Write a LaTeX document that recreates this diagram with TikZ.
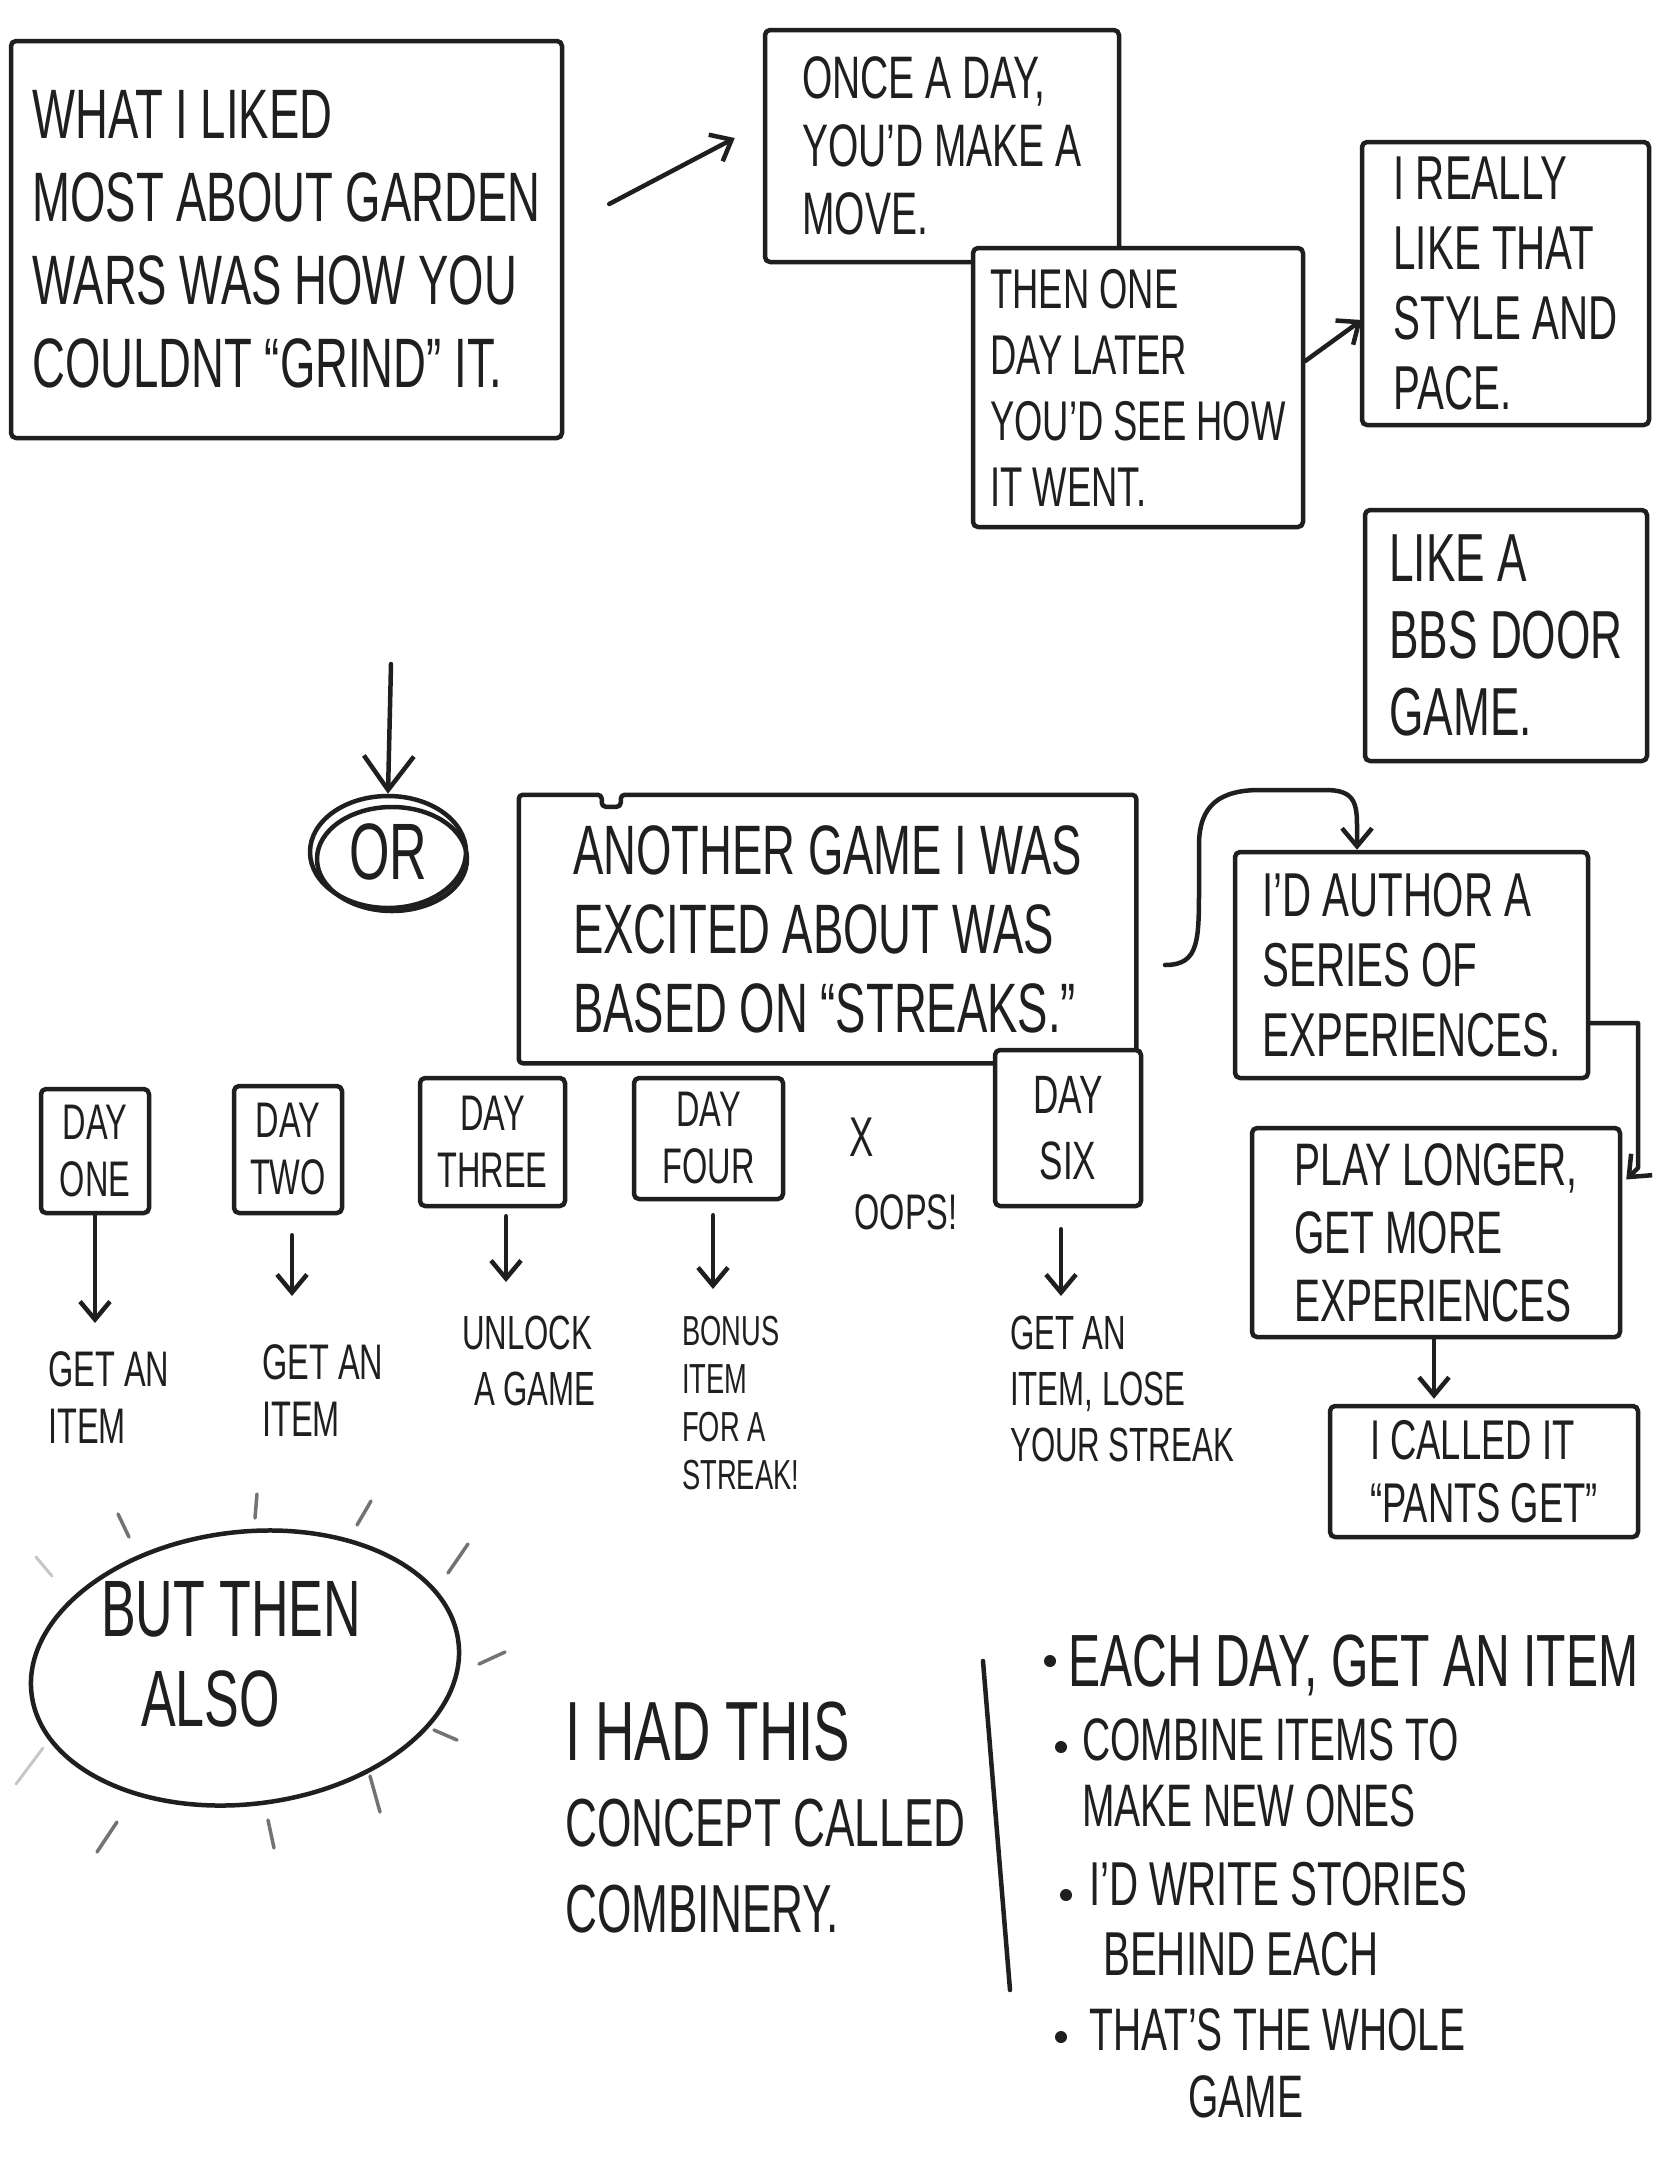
\documentclass[tikz,border=0pt]{standalone}
\usepackage{fontspec}
\setmainfont{Liberation Sans}[FakeStretch=0.65]
\usetikzlibrary{arrows.meta,shapes.geometric}
\newcommand{\hsz}[2]{\fontsize{#1}{#2}\selectfont}
\tikzset{
  sk/.style={line width=4.5pt, line cap=round, line join=round, draw=black!88},
  sbox/.style={sk, draw, rounded corners=5pt, inner sep=0pt, align=left, fill=white, text=black!88},
  txt/.style={inner sep=0pt, align=left, text=black!88},
  harrow/.style={sk, -{Straight Barb[length=18pt,width=30pt]}},
  bigarrow/.style={sk, -{Straight Barb[length=34pt,width=50pt]}},
  ray/.style={line width=3.5pt, line cap=round, draw=black!55},
  faintray/.style={line width=3pt, line cap=round, draw=black!22},
}
\begin{document}
\begin{tikzpicture}[x=1pt,y=-1pt]
\useasboundingbox[fill=white] (0,0) rectangle (1668,2161);

% top row
\node[sbox, minimum width=551pt, minimum height=397pt, font=\hsz{70}{83}] (b1) at (286.5,239.5)
  {WHAT I LIKED\\MOST ABOUT GARDEN\\WARS WAS HOW YOU\\COULDNT “GRIND” IT.};
\node[sbox, minimum width=354pt, minimum height=232pt, font=\hsz{60}{68}] (b2) at (942,146)
  {ONCE A DAY,\\YOU’D MAKE A\\MOVE.};
\node[sbox, minimum width=330pt, minimum height=279pt, font=\hsz{56}{66}] (b3) at (1138,387.5)
  {THEN ONE\\DAY LATER\\YOU’D SEE HOW\\IT WENT.};
\node[sbox, minimum width=287pt, minimum height=283pt, font=\hsz{62}{70}] (b4) at (1505.5,283.5)
  {I REALLY\\LIKE THAT\\STYLE AND\\PACE.};
\node[sbox, minimum width=282pt, minimum height=251pt, font=\hsz{68}{77}] (b5) at (1506,635.5)
  {LIKE A\\BBS DOOR\\GAME.};

\draw[harrow] ([xshift=45pt,yshift=35.5pt]b1.east) -- ([xshift=-28pt,yshift=8pt]b2.west);
\draw[harrow] ([yshift=26.5pt]b3.east) -- ([xshift=2pt,yshift=-36.5pt]b4.west);

% OR
\coordinate (ors) at (391,664);
\node[ellipse, sk, draw, minimum width=156pt, minimum height=112pt, inner sep=0pt, font=\hsz{80}{90}, text=black!88] (or) at (388,852) {OR};
\draw[sk] (392,859) ellipse [x radius=75, y radius=52];
\draw[bigarrow] (ors) -- (or.north);

% streaks box
\node[sbox, draw=none, fill=none, minimum width=613pt, minimum height=264pt, font=\hsz{70}{79}] (b6) at (827.5,929)
  {ANOTHER GAME I WAS\\EXCITED ABOUT WAS\\BASED ON “STREAKS.”};
\draw[sk, rounded corners=4pt] (b6.north west) -- ([xshift=83pt]b6.north west) -- ([xshift=83pt,yshift=-12pt]b6.north west)
  -- ([xshift=102pt,yshift=-12pt]b6.north west) -- ([xshift=102pt]b6.north west) -- (b6.north east)
  -- (b6.south east) -- (b6.south west) -- cycle;

% right column
\node[sbox, minimum width=353pt, minimum height=226pt, font=\hsz{62}{70}] (b7) at (1411.5,965)
  {I’D AUTHOR A\\SERIES OF\\EXPERIENCES.};
\node[sbox, minimum width=368pt, minimum height=209pt, font=\hsz{60}{68}] (b8) at (1436,1232.5)
  {PLAY LONGER,\\GET MORE\\EXPERIENCES};
\node[sbox, minimum width=308pt, minimum height=131pt, font=\hsz{56}{63}] (b9) at (1484,1471.5)
  {I CALLED IT\\“PANTS GET”};

\coordinate (c1) at (1165,965);
\draw[harrow] (c1) .. controls (1200,965) and (1199,940) .. (1199,880) -- (1199,845)
  .. controls (1199,805) and (1220,790) .. (1260,790) -- (1325,790)
  .. controls (1352,790) and (1357,800) .. (1357,825) -- ([xshift=-54.5pt]b7.north);
\draw[harrow] ([yshift=-58pt]b7.east) -- (1638,1023) -- (1638,1168) -- ([xshift=4pt,yshift=53pt]b8.east);
\draw[harrow] ([xshift=-2pt]b8.south) -- ([xshift=-50pt,yshift=5pt]b9.north);

% day boxes
\node[sbox, minimum width=108pt, minimum height=124pt, align=center, font=\hsz{50}{57}] (d1) at (95,1151) {DAY\\ONE};
\node[sbox, minimum width=108pt, minimum height=127pt, align=center, font=\hsz{50}{57}] (d2) at (288,1149.5) {DAY\\TWO};
\node[sbox, minimum width=145pt, minimum height=128pt, align=center, font=\hsz{50}{57}] (d3) at (492.5,1142) {DAY\\THREE};
\node[sbox, minimum width=149pt, minimum height=121pt, align=center, font=\hsz{50}{57}] (d4) at (708.5,1138.5) {DAY\\FOUR};
\node[sbox, minimum width=146pt, minimum height=156pt, align=center, font=\hsz{54}{66}] (d6) at (1068,1128) {DAY\\SIX};

\node[txt, anchor=north west, font=\hsz{50}{57}] (l1) at (48,1351) {GET AN\\ITEM};
\node[txt, anchor=north west, font=\hsz{50}{57}] (l2) at (262,1344) {GET AN\\ITEM};
\node[txt, anchor=north west, font=\hsz{48}{56}] (l3) at (462,1316) {UNLOCK\\\hspace*{12pt}A GAME};
\node[txt, anchor=north west, font=\hsz{42}{48}] (l4) at (682,1316) {BONUS\\ITEM\\FOR A\\STREAK!};
\node[txt, anchor=north west, font=\hsz{48}{56}] (l6) at (1010,1316) {GET AN\\ITEM, LOSE\\YOUR STREAK};
\node[txt, font=\hsz{56}{64}] (ox) at (862,1137) {X};
\node[txt, font=\hsz{50}{57}] (oops) at (906,1212) {OOPS!};

\coordinate (a1) at (95,1323);
\coordinate (a2) at (292,1296);
\coordinate (a3) at (506,1282);
\coordinate (a4) at (713,1289);
\coordinate (a6) at (1061,1296);
\draw[harrow] (d1.south) -- (a1);
\draw[harrow] ([xshift=4pt,yshift=-20pt]d2.south) -- (a2);
\draw[harrow] ([xshift=13.5pt,yshift=-8pt]d3.south) -- (a3);
\draw[harrow] ([xshift=4.5pt,yshift=-14pt]d4.south) -- (a4);
\draw[harrow] ([xshift=-7pt,yshift=-21pt]d6.south) -- (a6);

% but then also
\node[ellipse, sk, draw, minimum width=430pt, minimum height=272pt, rotate=7, inner sep=0pt] (bta) at (245,1668) {};
\node[txt, font=\hsz{80}{90}] (btt) at (231,1654) {BUT THEN\\\hspace*{40pt}ALSO};
\draw[ray] (118,1514) -- (129,1537);
\draw[ray] (257,1494) -- (255,1518);
\draw[ray] (371,1501) -- (357,1525);
\draw[ray] (468,1544) -- (448,1573);
\draw[ray] (505,1652) -- (479,1664);
\draw[ray] (434,1730) -- (457,1740);
\draw[ray] (370,1776) -- (380,1812);
\draw[ray] (268,1820) -- (274,1848);
\draw[ray] (117,1822) -- (97,1852);
\draw[faintray] (43,1748) -- (16,1784);
\draw[faintray] (36,1557) -- (52,1576);

% combinery
\node[txt, anchor=north west, font=\hsz{68}{86}] (comb) at (565,1702)
  {{\hsz{84}{86}I HAD THIS}\\CONCEPT CALLED\\COMBINERY.};
\draw[sk] (983,1661) -- (1010,1990);

% bullets
\foreach \p in {(1050,1661),(1061,1747),(1066,1895),(1061,2037)} \fill[black!88] \p circle (6);
\node[txt, anchor=north west, font=\hsz{74}{82}] (p1) at (1068,1635) {EACH DAY, GET AN ITEM};
\node[txt, anchor=north west, font=\hsz{60}{66}] (p2) at (1082,1718) {COMBINE ITEMS TO\\MAKE NEW ONES};
\node[txt, anchor=north west, font=\hsz{62}{70}] (p3) at (1089,1862) {I’D WRITE STORIES\\\hspace*{14pt}BEHIND EACH};
\node[txt, anchor=north west, font=\hsz{60}{67}] (p4) at (1089,2008) {THAT’S THE WHOLE\\\hspace*{99pt}GAME};
\end{tikzpicture}
\end{document}
